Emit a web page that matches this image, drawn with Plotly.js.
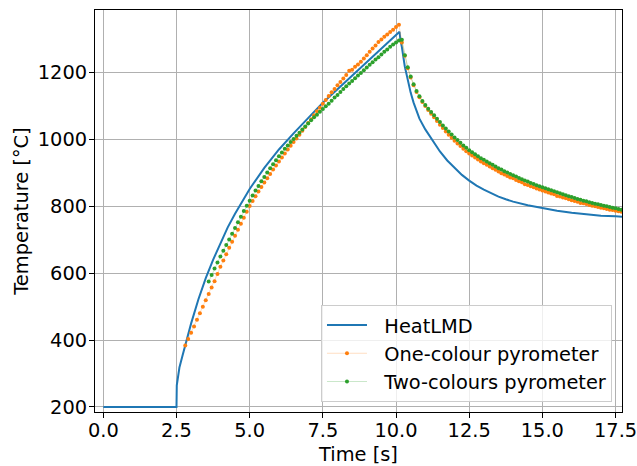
<!DOCTYPE html>
<html>
<head>
<meta charset="utf-8">
<script src="https://cdn.plot.ly/plotly-3.0.1.min.js"></script>
<style>html,body{margin:0;padding:0;background:#fff;}#chart{width:637px;height:466px;}</style>
</head>
<body>
<div id="chart"></div>
<script>
// HeatLMD simulation (line)
const simTime = [0, 2.5, 2.51, 2.55, 2.6, 2.7, 2.8, 2.9, 3.0, 3.25, 3.5, 3.75, 4.0, 4.25, 4.5, 4.75, 5.0, 5.5, 6.0, 6.5, 7.0, 7.5, 8.0, 8.5, 9.0, 9.5, 10.0, 10.12, 10.15, 10.2, 10.3, 10.4, 10.5, 10.6, 10.8, 11.0, 11.25, 11.5, 11.75, 12.0, 12.25, 12.5, 12.75, 13.0, 13.25, 13.5, 13.75, 14.0, 14.5, 15.0, 15.5, 16.0, 16.5, 17.0, 17.5, 17.72];
const simTemp = [200, 200, 265, 295, 318, 352, 385, 418, 450, 522, 585, 640, 690, 737, 778, 815, 852, 915, 970, 1018, 1065, 1110, 1150, 1190, 1232, 1272, 1312, 1322, 1298, 1276, 1218, 1174, 1140, 1110, 1062, 1030, 995, 964, 937, 914, 894, 877, 862, 850, 839, 829, 821, 814, 803, 794, 787, 781, 776, 772, 770, 769];

// Pyrometer sampling times
const measTime = [2.8, 2.9, 3.0, 3.1, 3.2, 3.3, 3.4, 3.5, 3.6, 3.7, 3.8, 3.9, 4.0, 4.1, 4.2, 4.3, 4.4, 4.5, 4.6, 4.7, 4.8, 4.9,
  5.0, 5.1, 5.2, 5.3, 5.4, 5.5, 5.6, 5.7, 5.8, 5.9, 6.0, 6.1, 6.2, 6.3, 6.4, 6.5, 6.6, 6.7, 6.8, 6.9,
  7.0, 7.1, 7.2, 7.3, 7.4, 7.5, 7.6, 7.7, 7.8, 7.9, 8.0, 8.1, 8.2, 8.3, 8.4, 8.5, 8.6, 8.7, 8.8, 8.9,
  9.0, 9.1, 9.2, 9.3, 9.4, 9.5, 9.6, 9.7, 9.8, 9.9, 10.0, 10.1, 10.2, 10.3, 10.4, 10.5, 10.6, 10.7, 10.8, 10.9,
  11.0, 11.1, 11.2, 11.3, 11.4, 11.5, 11.6, 11.7, 11.8, 11.9, 12.0, 12.1, 12.2, 12.3, 12.4, 12.5, 12.6, 12.7, 12.8, 12.9,
  13.0, 13.1, 13.2, 13.3, 13.4, 13.5, 13.6, 13.7, 13.8, 13.9, 14.0, 14.1, 14.2, 14.3, 14.4, 14.5, 14.6, 14.7, 14.8, 14.9,
  15.0, 15.1, 15.2, 15.3, 15.4, 15.5, 15.6, 15.7, 15.8, 15.9, 16.0, 16.1, 16.2, 16.3, 16.4, 16.5, 16.6, 16.7, 16.8, 16.9,
  17.0, 17.1, 17.2, 17.3, 17.4, 17.5, 17.6, 17.7];

// One-colour pyrometer
const oneColour = [384, 403, 422, 441, 461, 480, 500, 519, 538, 557, 576, 598, 619, 638, 657, 676, 694, 712, 730, 748, 766, 784,
  801, 816, 830, 844, 858, 871, 884, 897, 910, 922, 934, 946, 958, 970, 981, 992, 1003, 1014, 1026, 1037,
  1049, 1060, 1072, 1084, 1095, 1107, 1118, 1130, 1141, 1151, 1162, 1172, 1182, 1193, 1205, 1208, 1217, 1224, 1232, 1242,
  1252, 1262, 1272, 1281, 1291, 1299, 1307, 1314, 1321, 1328, 1336, 1343, 1290, 1250, 1213, 1185, 1162, 1142, 1126, 1112,
  1100, 1088, 1077, 1066, 1055, 1044, 1034, 1024, 1014, 1005, 996, 988, 980, 972, 965, 958, 952, 946, 940, 934,
  929, 924, 919, 914, 909, 904, 899, 895, 891, 886, 884, 879, 875, 872, 866, 864, 860, 857, 853, 850,
  847, 844, 841, 838, 836, 831, 829, 826, 824, 821, 818, 816, 814, 810, 809, 807, 804, 802, 800, 798,
  796, 794, 792, 790, 789, 787, 785, 784];

// Two-colours pyrometer
const twoColours = [null, null, null, null, null, null, null, null, 575, 595, 614, 632, 650, 667, 684, 701, 718, 735, 752, 769, 786, 802,
  817, 832, 847, 861, 875, 888, 901, 914, 926, 938, 950, 961, 972, 982, 992, 1001, 1011, 1020, 1030, 1039,
  1048, 1057, 1066, 1074, 1083, 1091, 1099, 1107, 1116, 1125, 1133, 1142, 1151, 1159, 1167, 1175, 1183, 1191, 1199, 1207,
  1215, 1223, 1231, 1239, 1246, 1254, 1262, 1269, 1277, 1284, 1290, 1296, 1298, 1252, 1216, 1188, 1165, 1145, 1129, 1115,
  1103, 1092, 1082, 1072, 1062, 1052, 1042, 1033, 1024, 1015, 1006, 998, 990, 982, 975, 968, 962, 956, 950, 944,
  939, 934, 929, 924, 919, 914, 910, 905, 901, 897, 893, 889, 885, 881, 877, 874, 870, 867, 863, 860,
  857, 854, 851, 848, 845, 842, 839, 836, 833, 830, 828, 825, 822, 820, 817, 815, 812, 810, 808, 806,
  804, 802, 800, 798, 796, 794, 792, 790];

const seriesNames = ['HeatLMD', 'One-colour pyrometer', 'Two-colours pyrometer'];
const xTicks = [0, 2.5, 5, 7.5, 10, 12.5, 15, 17.5];
const yTicks = [200, 400, 600, 800, 1000, 1200];

const FONT = 'DejaVu Sans, sans-serif';
const FS = 19.4;
const PAD = '\u00a0\u00a0';

const traces = [
  {x: simTime, y: simTemp, type: 'scatter', mode: 'lines', name: PAD + seriesNames[0],
   line: {color: '#1f77b4', width: 2}},
  {x: measTime, y: oneColour, type: 'scatter', mode: 'lines+markers', name: PAD + seriesNames[1],
   line: {color: 'rgba(255,127,14,0.25)', width: 1},
   marker: {color: '#ff7f0e', size: 4}},
  {x: measTime, y: twoColours, type: 'scatter', mode: 'lines+markers', name: PAD + seriesNames[2],
   line: {color: 'rgba(44,160,44,0.25)', width: 1},
   marker: {color: '#2ca02c', size: 4}}
];

const axisCommon = {
  showgrid: true, gridcolor: '#b0b0b0', gridwidth: 1,
  showline: true, linecolor: '#000', linewidth: 1, mirror: true,
  ticks: 'outside', ticklen: 5, tickcolor: '#000', tickwidth: 1,
  zeroline: false,
  tickfont: {family: FONT, size: FS, color: '#000'}
};

const layout = {
  width: 637, height: 466,
  margin: {l: 95, r: 15, t: 10, b: 54},
  paper_bgcolor: '#fff', plot_bgcolor: '#fff',
  font: {family: FONT, size: FS, color: '#000'},
  showlegend: true,
  legend: {x: 0.981, xanchor: 'right', y: 0.025, yanchor: 'bottom',
    itemwidth: 40,
    bgcolor: 'rgba(255,255,255,0.8)', bordercolor: '#cccccc', borderwidth: 1,
    font: {family: FONT, size: FS, color: '#000'}},
  xaxis: Object.assign({}, axisCommon, {
    range: [-0.284, 17.72], tickvals: xTicks, tickformat: '.1f',
    ticklabeloverflow: 'allow', ticklabelstandoff: -4,
    title: {text: 'Time [s]', font: {family: FONT, size: FS, color: '#000'}, standoff: 10}
  }),
  yaxis: Object.assign({}, axisCommon, {
    range: [185, 1387], tickvals: yTicks, ticklabelstandoff: -2,
    title: {text: 'Temperature [°C]', font: {family: FONT, size: FS, color: '#000'}, standoff: 3}
  })
};

Plotly.newPlot('chart', traces, layout, {displayModeBar: false, staticPlot: true});
</script>
</body>
</html>
